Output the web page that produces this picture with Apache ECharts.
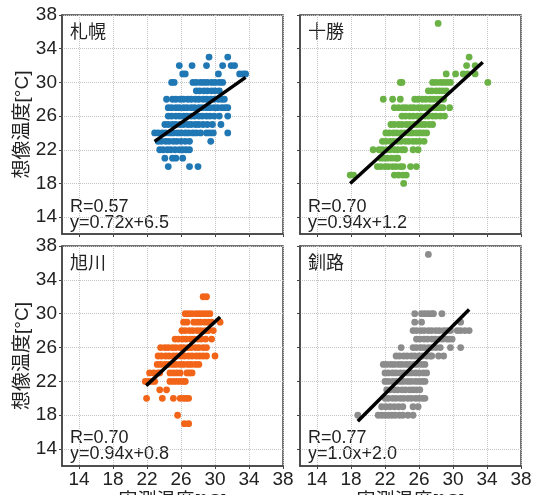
<!DOCTYPE html>
<html>
<head>
<meta charset="utf-8">
<script src="https://cdn.jsdelivr.net/npm/echarts@6/dist/echarts.min.js"></script>
<style>
  html, body { margin: 0; padding: 0; background: #fff; }
  #chart { width: 535px; height: 495px; }
</style>
</head>
<body>
<div id="chart"></div>
<script>
const stations = ['札幌', '十勝', '旭川', '釧路'];
const rTexts = ['R=0.57', 'R=0.70', 'R=0.70', 'R=0.77'];
const eqTexts = ['y=0.72x+6.5', 'y=0.94x+1.2', 'y=0.94x+0.8', 'y=1.0x+2.0'];
const colors = ['#1f77b4', '#6ab245', '#f26518', '#8c8c8c'];
const tickValues = [14, 18, 22, 26, 30, 34, 38];
const yName = '想像温度[°C]';
const xName = '実測温度[°C]';

// each row: [y, [x, x, ...]]
const sapporoRows = [
  [33, [29.3, 31.5]],
  [32, [25.8, 27.3, 29.0, 30.9, 31.9, 32.3]],
  [31, [26.2, 26.5, 30.4, 32.9, 33.3, 33.6]],
  [30, [24.9, 25.2, 27.4, 27.8, 28.3, 28.7, 29.1, 29.6, 30.0, 30.5, 30.9]],
  [29, [27.8, 28.2, 28.7, 29.1, 29.6, 30.0, 30.5]],
  [28, [24.3, 25.0, 25.4, 25.9, 26.3, 26.8, 27.2, 27.7, 28.1, 28.6, 29.0, 29.5, 29.9, 30.4, 30.8, 31.1]],
  [27, [24.5, 24.9, 25.4, 25.8, 26.3, 26.7, 27.2, 27.6, 28.1, 28.5, 29.0, 29.4, 29.9, 30.3, 30.8, 31.2, 31.5]],
  [26, [24.5, 24.9, 25.4, 25.8, 26.3, 26.7, 27.2, 27.6, 28.1, 28.5, 29.0, 29.4, 29.9, 30.5, 31.5]],
  [25, [24.1, 24.5, 25.0, 25.4, 25.9, 26.3, 26.8, 27.2, 27.7, 28.1, 28.6, 29.1, 29.7, 30.7]],
  [24, [22.9, 23.3, 23.8, 24.2, 24.7, 25.1, 25.6, 26.0, 26.5, 26.9, 27.4, 27.8, 28.3, 29.0, 29.4, 29.8, 31.5]],
  [23, [23.3, 23.7, 24.2, 24.6, 25.1, 25.5, 26.0, 26.5, 27.0, 29.5]],
  [22, [23.5, 23.9, 24.4, 24.8, 25.3, 25.8, 26.2, 26.6, 27.0]],
  [21, [24.1, 25.0, 25.4, 26.2]],
  [20, [24.5, 27.0, 28.0]]
];
const tokachiRows = [
  [37, [28.25]],
  [33, [31.9]],
  [32, [31.6, 32.6]],
  [31, [29.2, 30.3, 31.2, 31.7, 32.6]],
  [30, [23.8, 24.0, 27.6, 28.0, 28.5, 28.9, 29.3, 29.7, 34.1]],
  [29, [27.1, 27.5, 28.0, 28.4, 28.8, 29.2]],
  [28, [21.8, 22.9, 23.8, 25.5, 25.9, 26.4, 26.8, 27.3, 27.7, 28.2, 28.6, 28.9]],
  [27, [23.1, 23.6, 24.1, 24.5, 25.0, 25.4, 25.9, 26.3, 26.8, 27.2, 27.7, 28.1, 28.5, 28.8, 29.6]],
  [26, [24.0, 24.4, 24.9, 25.3, 25.8, 26.2, 26.7, 27.1, 27.6, 28.0, 28.5, 29.0]],
  [25, [22.7, 23.1, 23.6, 24.0, 24.5, 24.9, 25.4, 25.8, 26.3, 26.7, 27.2, 27.6]],
  [24, [22.1, 22.5, 23.0, 23.4, 23.9, 24.3, 24.8, 25.2, 25.7, 26.1, 26.5, 26.9]],
  [23, [21.7, 22.1, 22.6, 23.0, 23.5, 23.9, 24.4, 24.8, 25.3, 25.7, 26.1, 26.6]],
  [22, [20.6, 21.3, 21.7, 22.2, 22.6, 23.1, 23.5, 24.0, 24.3, 25.3, 25.9]],
  [21, [21.5, 21.9, 22.3, 22.8, 23.3, 23.5]],
  [20, [21.1, 21.5, 22.0, 22.4, 22.9, 23.3, 23.8, 24.1, 25.0, 25.7]],
  [19, [17.9, 18.3, 23.1, 23.6, 24.1, 24.5]],
  [18, [24.2]]
];
const asahikawaRows = [
  [32, [28.6, 29.0]],
  [30, [26.5, 26.9, 27.3, 27.8, 28.2, 28.6, 29.0, 29.4]],
  [29, [26.3, 26.7, 27.5, 27.9, 28.3, 28.8, 29.2, 29.6, 30.6]],
  [28, [26.1, 26.5, 27.0, 27.4, 27.9, 28.3, 28.8, 29.2, 29.8]],
  [27, [25.3, 25.7, 26.2, 26.6, 27.1, 27.5, 28.0, 28.4, 28.9, 29.6]],
  [26, [23.6, 24.1, 24.5, 25.0, 25.4, 25.9, 26.3, 26.8, 27.2, 27.7, 28.1, 28.6, 29.0]],
  [25, [23.3, 23.7, 24.2, 24.6, 25.1, 25.5, 26.0, 26.4, 26.9, 27.3, 27.8, 28.2, 28.6, 29.0, 30.0]],
  [24, [23.2, 23.6, 24.1, 24.5, 25.0, 25.4, 25.9, 26.3, 26.8, 27.2, 27.7, 28.1]],
  [23, [22.3, 22.8, 23.3, 23.5, 24.7, 25.1, 25.5, 25.9, 26.7, 27.0, 27.3]],
  [22, [21.8, 22.2, 22.6, 22.9, 24.7, 25.1, 25.5, 25.9, 26.3, 26.5]],
  [21, [23.5, 24.3]],
  [20, [21.95, 23.8, 25.1, 25.9, 26.3, 26.6, 26.9]],
  [18, [25.6]],
  [17, [26.4, 26.9]]
];
const kushiroRows = [
  [37, [27.1]],
  [30, [25.5, 26.3, 26.7, 27.1, 27.5, 27.7, 28.7]],
  [29, [25.5, 26.3, 30.9]],
  [28, [25.3, 25.7, 26.2, 26.6, 27.1, 27.5, 28.0, 28.4, 28.9, 29.3, 29.7, 30.5, 30.9, 31.4, 31.9]],
  [27, [25.7, 26.1, 26.6, 27.0, 27.5, 27.9, 28.4, 28.8, 29.3, 29.6, 29.9]],
  [26, [23.9, 25.3, 25.7, 26.2, 26.6, 27.1, 27.5, 28.0, 28.5, 29.7, 30.9]],
  [25, [23.3, 23.7, 24.2, 24.6, 25.1, 25.5, 26.0, 26.4, 26.9, 27.3, 27.5, 28.3, 28.9]],
  [24, [21.8, 22.2, 22.7, 23.1, 23.6, 24.0, 24.5, 24.9, 25.4, 25.8, 26.3, 26.7]],
  [23, [22.0, 22.4, 22.9, 23.3, 23.8, 24.2, 24.7, 25.1, 25.6, 26.0, 26.5, 26.9]],
  [22, [22.0, 22.4, 22.9, 23.3, 23.8, 24.2, 24.7, 25.1, 25.6, 26.0, 26.4, 26.7]],
  [21, [22.2, 22.6, 23.1, 23.5, 24.0, 24.4, 24.9, 25.3, 25.7, 26.1]],
  [20, [22.0, 22.4, 22.9, 23.3, 23.8, 24.2, 24.7, 25.1, 25.6, 26.0, 26.4, 26.7]],
  [19, [21.6, 22.1, 22.6, 23.1, 23.6, 24.1, 25.3, 25.9]],
  [18, [18.8, 21.2, 21.6, 22.0, 22.4, 22.8, 23.2, 23.7, 24.1, 24.7, 25.3]]
];
const allRows = [sapporoRows, tokachiRows, asahikawaRows, kushiroRows];

// regression line end points [[x0, y0], [x1, y1]]
const fitLines = [
  [[22.9, 23.0], [33.6, 30.6]],
  [[17.9, 18.0], [33.5, 32.4]],
  [[21.9, 21.5], [30.6, 29.6]],
  [[18.8, 17.3], [31.9, 30.5]]
];

const font = "'Liberation Sans', Arial, 'Noto Sans CJK JP', sans-serif";
const grids = [
  { left: 62, top: 15, width: 221, height: 219 },
  { left: 300, top: 15, width: 221, height: 219 },
  { left: 62, top: 246, width: 221, height: 220 },
  { left: 300, top: 246, width: 221, height: 220 }
];

function toPoints(rows) {
  const pts = [];
  rows.forEach(([y, xs]) => xs.forEach((x) => pts.push([x, y])));
  return pts;
}

const xAxes = [], yAxes = [], series = [], graphics = [];
grids.forEach((g, i) => {
  g.show = true;
  g.borderColor = '#444';
  g.borderWidth = 1.5;
  g.containLabel = false;
  g.outerBoundsMode = 'none';
  const bottomRow = i >= 2;
  const leftCol = i % 2 === 0;
  const common = {
    type: 'value', gridIndex: i, min: 12, max: 38,
    axisLine: { show: true, lineStyle: { color: '#444', width: 1.5 } },
    axisTick: { show: true, customValues: tickValues, length: 3, lineStyle: { color: '#444' } },
    splitLine: { show: true, lineStyle: { type: 'dotted', color: '#c4c4c4', width: 1 } }
  };
  xAxes.push(Object.assign({}, common, {
    axisLabel: { show: bottomRow, customValues: tickValues, fontSize: 19, color: '#222', fontFamily: font, margin: 4 },
    name: bottomRow ? xName : '', nameLocation: 'middle', nameGap: 26,
    nameTextStyle: { fontSize: 19, color: '#222', fontFamily: font }
  }));
  yAxes.push(Object.assign({}, common, {
    axisLabel: { show: leftCol, customValues: tickValues, fontSize: 19, color: '#222', fontFamily: font, margin: 5 },
    name: leftCol ? yName : '', nameLocation: 'middle', nameGap: 30,
    nameTextStyle: { fontSize: 19, color: '#222', fontFamily: font }
  }));
  series.push({
    type: 'scatter', xAxisIndex: i, yAxisIndex: i,
    data: toPoints(allRows[i]), symbolSize: 6.8,
    itemStyle: { color: colors[i], opacity: 1 }, silent: true, z: 2
  });
  series.push({
    type: 'line', xAxisIndex: i, yAxisIndex: i,
    data: fitLines[i], symbol: 'none', silent: true, z: 3,
    lineStyle: { color: '#000', width: 3.5 }
  });
  const tx = g.left + 8;
  graphics.push({ type: 'text', left: tx, top: g.top + 9, style: { text: stations[i], font: '18px ' + font, fill: '#222' } });
  graphics.push({ type: 'text', left: tx, top: g.top + 183, style: { text: rTexts[i], font: '18px ' + font, fill: '#222' } });
  graphics.push({ type: 'text', left: tx, top: g.top + 199, style: { text: eqTexts[i], font: '18px ' + font, fill: '#222' } });
});

const chart = echarts.init(document.getElementById('chart'), null, { renderer: 'canvas' });
chart.setOption({
  animation: false,
  backgroundColor: '#fff',
  grid: grids,
  xAxis: xAxes,
  yAxis: yAxes,
  series: series,
  graphic: graphics
});
</script>
</body>
</html>
